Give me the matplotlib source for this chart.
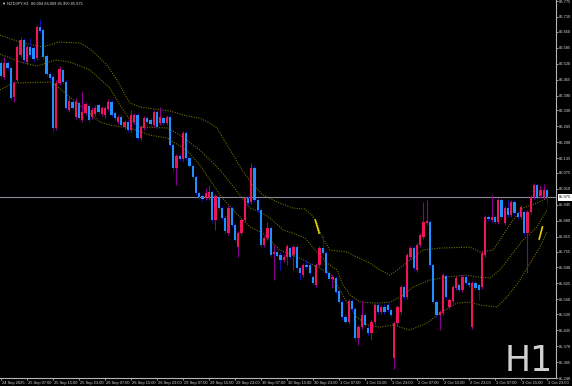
import matplotlib
matplotlib.use("Agg")
import matplotlib.pyplot as plt
import matplotlib.transforms as mtransforms
from matplotlib import font_manager as fm
import numpy as np

# ---- data (NZDJPY H1) ----
opens = [86.523,86.465,86.523,86.502,86.384,86.453,86.555,86.616,86.527,86.588,
         86.584,86.543,86.669,86.657,86.551,86.478,86.465,86.258,86.441,86.494,
         86.445,86.331,86.364,86.303,86.360,86.290,86.319,86.347,86.303,86.315,
         86.351,86.315,86.311,86.335,86.364,86.319,86.282,86.303,86.262,86.282,
         86.250,86.282,86.311,86.217,86.258,86.298,86.290,86.270,86.323,86.278,
         86.298,86.278,86.303,86.189,86.095,86.144,86.132,86.237,86.136,86.103,
         86.058,85.993,85.981,85.973,85.973,85.997,85.883,85.977,85.932,85.891,
         85.830,85.932,85.863,85.773,85.830,85.883,85.973,85.956,86.095,85.965,
         85.924,85.781,85.810,85.851,85.745,85.753,85.741,85.720,85.732,85.769,
         85.741,85.773,85.688,85.659,85.700,85.700,85.651,85.618,85.700,85.769,
         85.749,85.667,85.643,85.647,85.594,85.549,85.488,85.468,85.553,85.521,
         85.403,85.447,85.496,85.443,85.423,85.468,85.537,85.509,85.529,85.537,
         85.517,85.321,85.464,85.509,85.610,85.570,85.732,85.769,85.680,85.781,
         85.814,85.871,85.875,85.700,85.549,85.496,85.504,85.655,85.529,85.553,
         85.606,85.618,85.598,85.651,85.627,85.447,85.627,85.618,85.610,85.741,
         85.895,85.883,85.895,85.875,85.965,85.871,85.932,85.903,85.956,85.912,
         85.895,85.916,85.830,85.916,85.977,86.026,85.981,85.977,86.004]
highs = [86.535,86.547,86.531,86.510,86.449,86.596,86.628,86.624,86.596,86.624,
         86.592,86.677,86.702,86.665,86.559,86.486,86.474,86.453,86.510,86.502,
         86.453,86.388,86.372,86.380,86.368,86.408,86.364,86.356,86.343,86.351,
         86.360,86.347,86.347,86.376,86.372,86.327,86.311,86.311,86.290,86.290,
         86.331,86.319,86.319,86.270,86.307,86.307,86.298,86.331,86.331,86.343,
         86.307,86.311,86.311,86.197,86.152,86.152,86.246,86.246,86.144,86.111,
         86.066,86.001,85.989,86.013,86.026,86.005,85.989,85.985,85.940,85.899,
         85.940,85.940,85.871,85.838,85.891,85.981,85.981,86.115,86.103,85.973,
         85.932,85.818,85.875,85.859,85.781,85.769,85.753,85.745,85.785,85.777,
         85.781,85.781,85.696,85.708,85.720,85.708,85.659,85.708,85.777,85.822,
         85.757,85.675,85.659,85.655,85.602,85.557,85.496,85.561,85.561,85.529,
         85.456,85.557,85.504,85.452,85.476,85.545,85.545,85.537,85.541,85.545,
         85.525,85.472,85.537,85.618,85.618,85.749,85.777,85.777,85.789,85.830,
         85.956,85.965,85.883,85.708,85.557,85.517,85.667,85.663,85.566,85.618,
         85.655,85.627,85.659,85.659,85.635,85.635,85.635,85.627,85.757,85.903,
         85.903,85.985,85.903,85.973,85.973,85.940,85.965,85.965,85.965,85.920,
         85.944,85.924,85.924,85.985,86.034,86.034,86.026,86.030,86.009]
lows = [86.461,86.457,86.494,86.372,86.364,86.445,86.547,86.527,86.518,86.547,
        86.527,86.535,86.645,86.539,86.470,86.453,86.242,86.250,86.433,86.437,
        86.331,86.323,86.331,86.294,86.290,86.282,86.311,86.282,86.294,86.307,
        86.311,86.307,86.298,86.327,86.303,86.290,86.274,86.262,86.254,86.242,
        86.242,86.274,86.209,86.209,86.250,86.274,86.266,86.262,86.254,86.270,
        86.270,86.270,86.180,86.079,86.026,86.123,86.123,86.128,86.095,86.050,
        85.985,85.969,85.961,85.965,85.965,85.875,85.843,85.924,85.883,85.826,
        85.822,85.855,85.794,85.732,85.822,85.875,85.944,85.948,85.956,85.916,
        85.769,85.773,85.802,85.732,85.639,85.728,85.680,85.712,85.700,85.724,
        85.680,85.671,85.639,85.651,85.684,85.659,85.618,85.610,85.692,85.741,
        85.659,85.635,85.606,85.582,85.541,85.480,85.460,85.460,85.513,85.391,
        85.374,85.439,85.447,85.415,85.395,85.460,85.500,85.500,85.500,85.509,
        85.488,85.276,85.456,85.500,85.561,85.561,85.724,85.680,85.671,85.773,
        85.806,85.863,85.692,85.541,85.488,85.435,85.496,85.561,85.521,85.545,
        85.598,85.590,85.590,85.618,85.610,85.439,85.598,85.557,85.602,85.732,
        85.879,85.875,85.867,85.867,85.887,85.863,85.895,85.895,85.903,85.887,
        85.887,85.822,85.667,85.908,85.969,85.965,85.973,85.969,85.950]
closes = [86.470,86.523,86.502,86.380,86.441,86.588,86.616,86.535,86.588,86.555,
          86.539,86.669,86.653,86.547,86.478,86.461,86.258,86.441,86.498,86.445,
          86.339,86.368,86.339,86.364,86.298,86.323,86.356,86.290,86.331,86.339,
          86.323,86.339,86.339,86.364,86.311,86.298,86.303,86.270,86.282,86.250,
          86.311,86.311,86.217,86.262,86.298,86.282,86.274,86.323,86.262,86.303,
          86.278,86.303,86.189,86.095,86.144,86.132,86.237,86.136,86.103,86.058,
          85.993,85.977,85.969,85.993,85.997,85.883,85.981,85.932,85.891,85.838,
          85.932,85.863,85.802,85.830,85.883,85.973,85.952,86.095,85.965,85.924,
          85.781,85.810,85.851,85.741,85.753,85.737,85.720,85.732,85.777,85.732,
          85.773,85.688,85.667,85.700,85.692,85.667,85.627,85.700,85.769,85.749,
          85.667,85.643,85.651,85.590,85.549,85.488,85.468,85.553,85.521,85.403,
          85.447,85.496,85.456,85.423,85.468,85.537,85.509,85.529,85.509,85.517,
          85.496,85.464,85.529,85.610,85.570,85.741,85.769,85.688,85.781,85.822,
          85.875,85.879,85.700,85.549,85.496,85.509,85.659,85.570,85.557,85.610,
          85.647,85.598,85.651,85.627,85.618,85.627,85.606,85.598,85.749,85.895,
          85.887,85.895,85.875,85.965,85.895,85.932,85.903,85.956,85.912,85.895,
          85.936,85.830,85.916,85.977,86.026,85.973,86.005,86.005,85.975]

# dotted channel lines (bar index -> price)
upper_idx = [-0.3, 5.8, 9.8, 12.9, 16.0, 17.5, 24.3, 26.5, 29.5, 32.6,
             35.7, 38.2, 39.7, 42.8, 52.0, 57.2, 61.2, 63.7, 66.5, 70.5,
             74.2, 77.5, 80.6, 85.8, 89.8, 93.5, 95.7, 97.2, 98.8, 101.2,
             106.5, 109.5, 113.5, 116.6, 119.7, 122.8, 129.8, 135.1, 144.3, 147.4,
             151.4, 153.5, 157.5, 160.6, 164.9, 168]
upper_val = [86.636, 86.608, 86.596, 86.588, 86.600, 86.608, 86.604, 86.588, 86.555, 86.514,
             86.453, 86.392, 86.360, 86.343, 86.327, 86.307, 86.298, 86.282, 86.258, 86.168,
             86.087, 86.026, 85.985, 85.952, 85.932, 85.928, 85.903, 85.871, 85.814, 85.761,
             85.753, 85.732, 85.708, 85.680, 85.659, 85.688, 85.761, 85.769, 85.773, 85.753,
             85.761, 85.802, 85.883, 85.932, 85.952, 85.973]
mid_idx = [-0.3, 5.8, 11.1, 15.1, 16.6, 21.2, 27.4, 33.5, 36.6, 39.7,
           42.8, 51.1, 55.1, 61.2, 67.4, 73.5, 76.6, 79.7, 82.8, 86.8,
           89.8, 93.5, 97.2, 100.3, 103.4, 105.2, 107.4, 110.5, 115.7, 119.7,
           122.8, 126.8, 132.0, 137.2, 143.4, 146.5, 150.5, 153.5, 157.5, 160.6,
           164.9, 168]
mid_val = [86.559, 86.527, 86.510, 86.527, 86.535, 86.527, 86.494, 86.421, 86.351, 86.290,
           86.262, 86.258, 86.229, 86.168, 86.087, 85.985, 85.932, 85.916, 85.891, 85.843,
           85.830, 85.810, 85.753, 85.708, 85.680, 85.618, 85.578, 85.549, 85.545, 85.549,
           85.570, 85.610, 85.639, 85.651, 85.659, 85.651, 85.647, 85.680, 85.749, 85.802,
           85.855, 85.924]
lower_idx = [-0.3, 3.7, 15.1, 17.5, 23.4, 30.5, 33.5, 39.7, 45.8, 51.1,
             54.5, 57.2, 61.2, 64.3, 67.4, 72.0, 76.6, 80.6, 85.8, 92.0,
             97.2, 101.2, 104.3, 106.5, 109.5, 112.6, 116.6, 120.6, 125.8, 131.1,
             135.1, 140.3, 144.3, 147.4, 152.6, 155.7, 159.7, 162.8, 165.8, 168]
lower_val = [86.413, 86.441, 86.445, 86.425, 86.360, 86.282, 86.270, 86.258, 86.229, 86.217,
             86.189, 86.168, 86.107, 86.046, 85.985, 85.916, 85.855, 85.830, 85.761, 85.728,
             85.692, 85.667, 85.598, 85.545, 85.488, 85.456, 85.447, 85.456, 85.435, 85.464,
             85.504, 85.545, 85.549, 85.537, 85.529, 85.570, 85.639, 85.708, 85.773, 85.834]

yellow1_idx = [96.7, 97.9]
yellow1_val = [85.883, 85.830]
yellow2_idx = [165.6, 166.6]
yellow2_val = [85.806, 85.855]

ytick_vals = [86.775, 86.710, 86.650, 86.585, 86.520, 86.455, 86.390, 86.330, 86.265,
              86.200, 86.135, 86.075, 86.010, 85.945, 85.880, 85.815, 85.755, 85.690,
              85.625, 85.560, 85.500, 85.435, 85.370, 85.305, 85.240]
xtick_labels = ["24 Sep 2025", "25 Sep 07:00", "25 Sep 15:00", "25 Sep 23:00",
                "26 Sep 07:00", "26 Sep 15:00", "26 Sep 23:00", "29 Sep 07:00",
                "29 Sep 15:00", "29 Sep 23:00", "30 Sep 07:00", "30 Sep 15:00",
                "30 Sep 23:00", "1 Oct 07:00", "1 Oct 15:00", "1 Oct 23:00",
                "2 Oct 07:00", "2 Oct 15:00", "2 Oct 23:00", "3 Oct 07:00",
                "3 Oct 15:00", "3 Oct 23:00"]
bars_per_label = 8
last_price = 85.975
header = "\u25BC NZDJPY,H1  86.004 86.009 85.950 85.975"


def font_available(name):
    try:
        fm.findfont(fm.FontProperties(family=name), fallback_to_default=False)
        return True
    except Exception:
        return False


if font_available("Liberation Sans Narrow"):
    FONT = ["Liberation Sans Narrow", "DejaVu Sans"]
    FS = 3.4
else:
    FONT = ["Liberation Sans", "DejaVu Sans"]
    FS = 2.9

# ---- figure ----
W, H = 572, 386
fig = plt.figure(figsize=(W / 100, H / 100), dpi=100, facecolor="black")
ax = fig.add_axes([0, 8 / H, 556 / W, 378 / H])
ax.set_facecolor("black")
ax.set_xlim(-0.308, 170.77)
ax.set_ylim(85.2400, 86.7791)

TXT = "#D8D8D8"
AX = "#B4B4B4"
for s in ("left", "top"):
    ax.spines[s].set_visible(False)
for s in ("right", "bottom"):
    ax.spines[s].set_color(AX)
    ax.spines[s].set_linewidth(0.8)

# channel lines
for ix, vals in ((upper_idx, upper_val), (mid_idx, mid_val), (lower_idx, lower_val)):
    ax.plot(ix, vals, color="#6E6E00", lw=0.8, ls=(0, (1, 1.2)), zorder=1)

# yellow segments
ax.plot(yellow1_idx, yellow1_val, color="#E6D200", lw=1.2, zorder=2)
ax.plot(yellow2_idx, yellow2_val, color="#E6D200", lw=1.2, zorder=2)

# current price line
ax.axhline(last_price, color="#8A8A96", lw=0.8, zorder=1.5)

# candles
x = np.arange(len(opens))
o = np.array(opens); c = np.array(closes); h = np.array(highs); l = np.array(lows)
up = c >= o
ax.vlines(x[up], l[up], h[up], color="#8B008B", lw=0.8, zorder=3)
ax.vlines(x[~up], l[~up], h[~up], color="#1010B0", lw=0.8, zorder=3)
body_lo = np.minimum(o, c)
body_h = np.maximum(np.abs(c - o), 0.004)
ax.bar(x[up], body_h[up], bottom=body_lo[up], width=0.62, color="#F0145A",
       edgecolor="none", zorder=4)
ax.bar(x[~up], body_h[~up], bottom=body_lo[~up], width=0.62, color="#1E90FF",
       edgecolor="none", zorder=4)

# y axis on right
ax.yaxis.tick_right()
ax.set_yticks(ytick_vals)
ax.set_yticklabels([f"{v:.3f}" for v in ytick_vals], family=FONT)
ax.tick_params(axis="y", direction="out", length=1.5, width=0.6, color=AX,
               labelsize=FS, labelcolor=TXT, pad=0.8)

# x axis
xt = [i * bars_per_label for i in range(len(xtick_labels))]
ax.set_xticks(xt)
ax.set_xticklabels(xtick_labels, ha="left", family=FONT)
ax.tick_params(axis="x", direction="out", length=1.5, width=0.6, color=AX,
               labelsize=FS, labelcolor=TXT, pad=0.5)
off = mtransforms.ScaledTranslation(1.2 / 100, 0, fig.dpi_scale_trans)
for lab in ax.get_xticklabels():
    lab.set_transform(lab.get_transform() + off)

# price tag
trans = mtransforms.blended_transform_factory(ax.transAxes, ax.transData)
ax.text(1.005, last_price, f"{last_price:.3f}", transform=trans, ha="left",
        va="center", fontsize=FS, family=FONT, color="black", clip_on=False,
        zorder=10, bbox=dict(boxstyle="square,pad=0.3", fc="white", ec="white", lw=0))

# header & watermark
fig.text(2 / W, 1 - 1.5 / H, header, fontsize=FS, family=FONT, color=TXT,
         va="top", ha="left")
fig.text(553 / W, 1 - 371 / H, "H1", fontsize=25, color="#D0D0D0",
         ha="right", va="baseline")

fig.savefig("out.png", dpi=100, facecolor="black")
